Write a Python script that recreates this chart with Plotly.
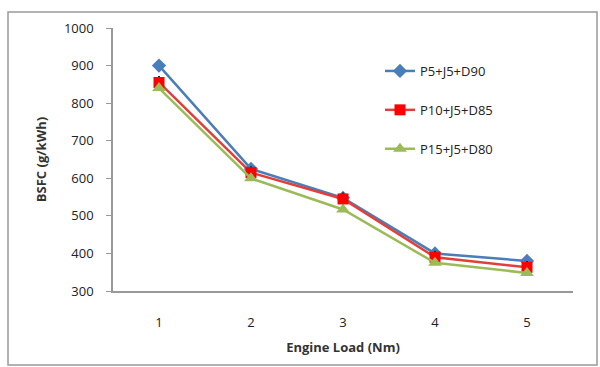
import plotly.graph_objects as go

loads = [1, 2, 3, 4, 5]
tick_labels = ["1", "2", "3", "4", "5"]
p5 = [900, 625, 548, 400, 380]
p10 = [855, 615, 545, 390, 363]
p15 = [840, 600, 517, 375, 348]
err = [15, 15, 15, 15, 15]

fig = go.Figure()
fig.add_trace(go.Scatter(x=loads, y=p5, name="P5+J5+D90", mode="lines+markers", legendgroup="a",
                         line=dict(color="#4a7ebb", width=2.5),
                         marker=dict(symbol="diamond", size=11, color="#4a7ebb")))
fig.add_trace(go.Scatter(x=loads, y=p10, name="P10+J5+D85", mode="lines+markers", legendgroup="b",
                         line=dict(color="#e0403c", width=2.5),
                         marker=dict(symbol="square", size=11, color="#ff0000"),
                         error_y=dict(type="data", array=err, color="#222", thickness=1.5, width=1)))
fig.add_trace(go.Scatter(x=loads, y=p15, name="P15+J5+D80", mode="lines+markers", legendgroup="c",
                         line=dict(color="#9bbb59", width=2.5),
                         marker=dict(symbol="triangle-up", size=12, color="#9bbb59")))

W = 460
H = 263
fig.update_layout(
    width=600, height=367,
    margin=dict(l=113, r=27, t=28, b=76, autoexpand=False),
    paper_bgcolor="white", plot_bgcolor="white",
    font=dict(family="Open Sans", size=12, color="#333"),
    showlegend=True,
    legend=dict(x=(380 - 113) / W, y=(291 - 56) / H, xanchor="left", yanchor="top",
                font=dict(size=13, color="#222"), tracegroupgap=19,
                bgcolor="rgba(0,0,0,0)"),
    shapes=[dict(type="rect", xref="paper", yref="paper",
                 x0=(8 - 113) / W, x1=(597 - 113) / W, y0=-(365 - 291) / H, y1=(291 - 12) / H,
                 line=dict(color="#999", width=1.5), layer="below")],
)
fig.update_xaxes(range=[0.5, 5.5], tickvals=loads, ticktext=tick_labels, automargin=False,
                 showline=True, linecolor="#999", linewidth=1.5, showgrid=False,
                 zeroline=False, ticks="", ticklabelstandoff=19, tickfont=dict(size=13, color="#222"),
                 title=dict(text="<b>Engine Load (Nm)</b>", font=dict(size=13, color="#333"), standoff=13))
fig.update_yaxes(range=[300, 1000], dtick=100, automargin=False,
                 showline=True, linecolor="#999", linewidth=1.5, showgrid=False,
                 zeroline=False, ticks="outside", ticklen=5, tickcolor="#999",
                 ticklabelstandoff=10,
                 tickfont=dict(size=13, color="#222"),
                 title=dict(text="<b>BSFC (g/kWh)</b>", font=dict(size=13, color="#333"), standoff=14))

fig.write_html("out.html", config={"displayModeBar": False},
               post_script="document.body.style.margin='0';document.body.style.overflow='hidden';")
